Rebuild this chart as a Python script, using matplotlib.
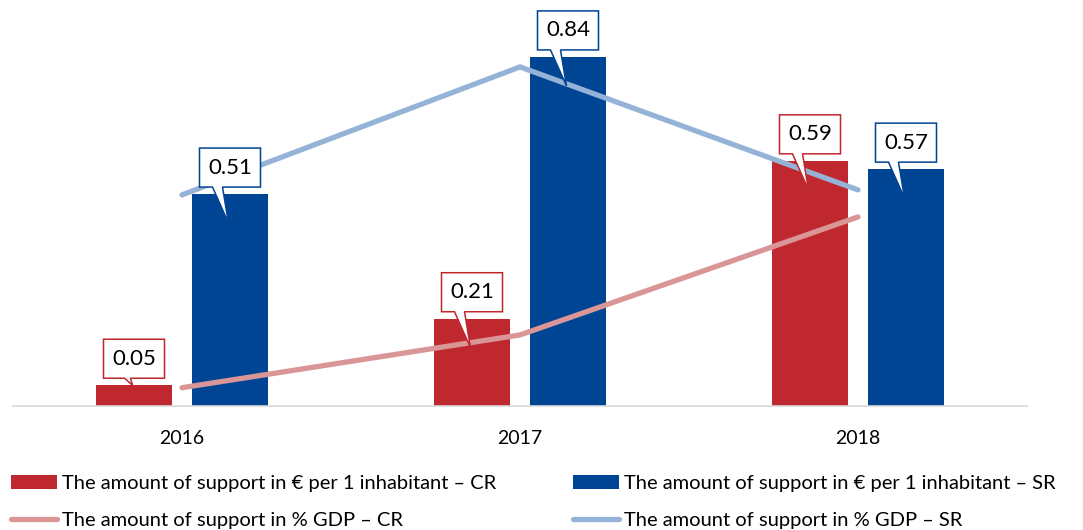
"""Support per inhabitant (bars) and as % of GDP (lines), CR vs SR, 2016-2018."""

import matplotlib.pyplot as plt
import matplotlib.transforms as mtransforms
from matplotlib.patches import PathPatch
from matplotlib.path import Path
import numpy as np

years = ["2016", "2017", "2018"]
support_cr = [0.05, 0.21, 0.59]
support_sr = [0.51, 0.84, 0.57]
gdp_cr = [0.044, 0.171, 0.455]
gdp_sr = [0.508, 0.816, 0.520]

label_bar_cr = "The amount of support in \u20ac per 1 inhabitant \u2013 CR"
label_bar_sr = "The amount of support in \u20ac per 1 inhabitant \u2013 SR"
label_gdp_cr = "The amount of support in % GDP \u2013 CR"
label_gdp_sr = "The amount of support in % GDP \u2013 SR"

RED = "#C0282F"
BLUE = "#004494"
RED_LIGHT = "#DA9696"
BLUE_LIGHT = "#95B3D7"

plt.rcParams["font.family"] = ["Lato", "DejaVu Sans"]

W, H = 1083, 530
fig = plt.figure(figsize=(W / 100, H / 100), dpi=100)
ax = fig.add_axes([13 / W, 124 / H, 1014 / W, 406 / H])

x = np.arange(len(years))
width = 0.222
offset = 0.142
ax.bar(x - offset, support_cr, width, color=RED, label=label_bar_cr, zorder=2)
ax.bar(x + offset, support_sr, width, color=BLUE, label=label_bar_sr, zorder=2)

ax.set_xlim(-0.5, 2.5)
ax.set_ylim(0, 0.977)
ax.set_yticks([])
ax.set_xticks(x, years, fontsize=14)
ax.tick_params(axis="x", length=0, pad=17)
for side in ("top", "left", "right"):
    ax.spines[side].set_visible(False)
ax.spines["bottom"].set_color("#D9D9D9")
ax.spines["bottom"].set_linewidth(1.2)

ax2 = ax.twinx()
ax2.set_ylim(0, 0.977)
ax2.set_yticks([])
for side in ("top", "left", "right", "bottom"):
    ax2.spines[side].set_visible(False)
ax2.plot(x, gdp_cr, color=RED_LIGHT, lw=3.8, solid_capstyle="round",
         solid_joinstyle="miter", label=label_gdp_cr)
ax2.plot(x, gdp_sr, color=BLUE_LIGHT, lw=3.8, solid_capstyle="round",
         solid_joinstyle="miter", label=label_gdp_sr)


def callout(xv, yv, text, color, depth=29, base=(-16, -6)):
    # box with a pointer tail, sized in pixels around the bar top
    trans = fig.dpi_scale_trans + mtransforms.ScaledTranslation(xv, yv, ax2.transData)
    tip_x = -1.5
    verts = [(-30.5, 7), (tip_x + base[0], 7), (tip_x, -depth), (tip_x + base[1], 7),
             (30.5, 7), (30.5, 46), (-30.5, 46), (-30.5, 7)]
    verts = [(a / 100, b / 100) for a, b in verts]
    codes = [Path.MOVETO] + [Path.LINETO] * (len(verts) - 2) + [Path.CLOSEPOLY]
    ax2.add_patch(PathPatch(Path(verts, codes), facecolor="white", edgecolor=color,
                            lw=1.1, transform=trans, zorder=5, clip_on=False))
    ax2.text(0, 0.265, text, transform=trans, ha="center", va="center",
             fontsize=16, color="black", zorder=6)


for i in range(len(years)):
    if support_cr[i] > 0.1:
        callout(x[i] - offset, support_cr[i], f"{support_cr[i]:.2f}", RED)
    else:
        callout(x[i] - offset, support_cr[i], f"{support_cr[i]:.2f}", RED,
                depth=0, base=(-8, -2))
    callout(x[i] + offset, support_sr[i], f"{support_sr[i]:.2f}", BLUE)

h1, l1 = ax.get_legend_handles_labels()
h2, l2 = ax2.get_legend_handles_labels()
common = dict(frameon=False, fontsize=14.5, handlelength=2.3, handletextpad=0.25,
              labelspacing=1.0, borderpad=0, borderaxespad=0, loc="upper left")
fig.legend([h1[0], h2[0]], [l1[0], l2[0]], bbox_to_anchor=(11 / W, 1 - 475 / H), **common)
fig.legend([h1[1], h2[1]], [l1[1], l2[1]], bbox_to_anchor=(573 / W, 1 - 475 / H), **common)

fig.savefig("out.png", dpi=100)
